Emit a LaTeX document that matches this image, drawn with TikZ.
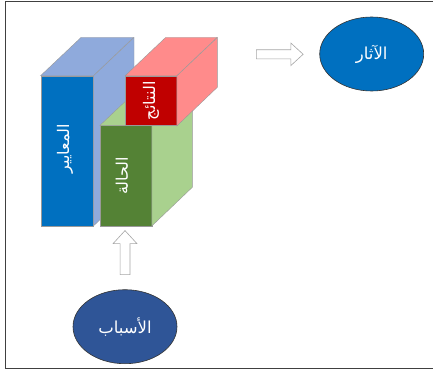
\documentclass[tikz,border=0pt]{standalone}
\usepackage{fontspec}
\newfontfamily\arabicfont[Script=Arabic]{DejaVu Sans}
\TeXXeTstate=1
\usetikzlibrary{shapes.geometric, shapes.arrows}
\definecolor{bluefront}{HTML}{0070C0}
\definecolor{blueside}{HTML}{8FAADC}
\definecolor{greenfront}{HTML}{548235}
\definecolor{greenside}{HTML}{A9D18E}
\definecolor{redfront}{HTML}{C00000}
\definecolor{redside}{HTML}{FF8B8B}
\definecolor{darkblob}{HTML}{2F5597}
\begin{document}
\begin{tikzpicture}[x=1pt, y=-1pt,
    face/.style={draw=gray!80, line width=0.4pt, inner sep=0pt},
    facetext/.style={text=white, rotate=90, font=\arabicfont\fontsize{16}{18}\selectfont},
    blob/.style={ellipse, draw=black!80, line width=0.6pt, minimum width=104pt, minimum height=74pt, text=white, font=\arabicfont\fontsize{16.5}{18}\selectfont},
    hollow/.style={single arrow, draw=gray!70, fill=white, line width=0.6pt, single arrow tip angle=85}]
            \fill[white] (0,0) rectangle (433,374);
            \useasboundingbox (0,0) rectangle (433,374);
            \draw[black!75, line width=0.8pt] (433,1.5) -- (5.5,1.5) -- (5.5,368.5) -- (433,368.5);
            % criteria box
            \node[face, fill=bluefront, minimum width=52.6pt, minimum height=149.7pt] (criteria) at (67,150.85) {};
            \filldraw[face, fill=blueside] (criteria.north west) -- ++(40.5,-38.3) -- ++(52.6,0) -- (criteria.north east) -- cycle;
            \filldraw[face, fill=blueside] (criteria.north east) -- ++(40.5,-38.3) -- ++(0,149.7) -- (criteria.south east) -- cycle;
            \node[facetext] (criterialabel) at ([xshift=-2pt, yshift=2pt]criteria.center) {\beginR المعايير\endR};
            % state box
            \node[face, fill=greenfront, minimum width=51.7pt, minimum height=100pt] (state) at (125.85,175.7) {};
            \filldraw[face, fill=greenside] (state.north west) -- ++(40.5,-38.3) -- ++(51.7,0) -- (state.north east) -- cycle;
            \filldraw[face, fill=greenside] (state.north east) -- ++(40.5,-38.3) -- ++(0,100) -- (state.south east) -- cycle;
            \node[facetext] (statelabel) at ([xshift=-4pt]state.center) {\beginR الحالة\endR};
            % results box
            \node[face, fill=redfront, minimum width=51.4pt, minimum height=49.7pt] (results) at (151,100.85) {};
            \filldraw[face, fill=redside] (results.north west) -- ++(40.5,-38.3) -- ++(51.4,0) -- (results.north east) -- cycle;
            \filldraw[face, fill=redside] (results.north east) -- ++(40.5,-38.3) -- ++(0,49.7) -- (results.south east) -- cycle;
            \node[facetext] (resultslabel) at (results.center) {\beginR النتائج\endR};
            % effects and causes
            \node[blob, fill=bluefront] (effects) at (371.7,54) {\beginR الآثار\endR};
            \node[blob, fill=darkblob] (causes) at (125,326.7) {\beginR الأسباب\endR};
            \node[hollow, inner sep=4.25pt, single arrow head extend=6.75pt, minimum height=46.7pt] (toeffects) at (277.3,54.3) {};
            \node[hollow, inner sep=4.65pt, single arrow head extend=7.05pt, minimum height=44pt, shape border rotate=90] (fromcauses) at (125,255.3) {};
        \end{tikzpicture}
\end{document}
